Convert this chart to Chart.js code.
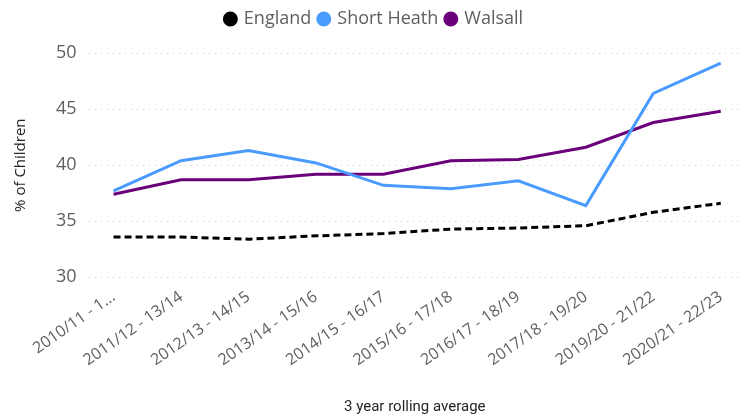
<!DOCTYPE html>
<html lang="en">
<head>
<meta charset="UTF-8">
<title>% of Children - 3 year rolling average</title>
<script src="https://cdn.jsdelivr.net/npm/chart.js"></script>
<style>
  html, body { margin: 0; padding: 0; background: #fff; }
  #wrap { width: 741px; height: 415px; position: relative; }
</style>
</head>
<body>
<div id="wrap"><canvas id="chart"></canvas></div>
<script>
const periods = ['2010/11 - 12/13', '2011/12 - 13/14', '2012/13 - 14/15', '2013/14 - 15/16', '2014/15 - 16/17',
                 '2015/16 - 17/18', '2016/17 - 18/19', '2017/18 - 19/20', '2019/20 - 21/22', '2020/21 - 22/23'];
const england    = [33.6, 33.6, 33.4, 33.7, 33.9, 34.3, 34.4, 34.6, 35.8, 36.6];
const shortHeath = [37.7, 40.4, 41.3, 40.2, 38.2, 37.9, 38.6, 36.4, 46.4, 49.1];
const walsall    = [37.4, 38.7, 38.7, 39.2, 39.2, 40.4, 40.5, 41.6, 43.8, 44.8];
const yTicks = [30, 35, 40, 45, 50];

const pts = arr => arr.map((v, i) => ({ x: i, y: v }));

// extra space under the legend
const legendGap = {
  id: 'legendGap',
  beforeInit(chart) {
    const fit = chart.legend.fit;
    chart.legend.fit = function () { fit.bind(chart.legend)(); this.height += 15; };
  }
};

new Chart(document.getElementById('chart'), {
  type: 'line',
  data: {
    datasets: [
      { label: 'England', data: pts(england), borderColor: '#000', backgroundColor: '#000',
        borderWidth: 3, borderDash: [7, 4], pointRadius: 0, tension: 0 },
      { label: 'Short Heath', data: pts(shortHeath), borderColor: '#4a9bff', backgroundColor: '#4a9bff',
        borderWidth: 3, pointRadius: 0, tension: 0 },
      { label: 'Walsall', data: pts(walsall), borderColor: '#6b007b', backgroundColor: '#6b007b',
        borderWidth: 3, pointRadius: 0, tension: 0 }
    ]
  },
  options: {
    responsive: true,
    maintainAspectRatio: false,
    animation: false,
    layout: { padding: { left: 8, right: 0, top: 2, bottom: 0 } },
    plugins: {
      tooltip: { enabled: false },
      legend: {
        position: 'top',
        labels: {
          usePointStyle: true, pointStyle: 'circle', boxWidth: 9, boxHeight: 8.5, padding: 8,
          color: '#605e5c', font: { family: 'Open Sans', size: 18 }
        }
      }
    },
    scales: {
      x: {
        type: 'linear', min: -0.37, max: 9.3,
        afterBuildTicks: s => { s.ticks = periods.map((_, i) => ({ value: i })); },
        grid: { display: false }, border: { display: false },
        ticks: {
          minRotation: 35, maxRotation: 35, autoSkip: false, padding: 2,
          color: '#605e5c', font: { family: 'Open Sans', size: 16 },
          callback: v => { const l = periods[v]; return v === 0 ? l.slice(0, 11) + '...' : l; }
        },
        title: { display: true, text: '3 year rolling average', color: '#252423',
                 font: { family: 'Roboto', size: 15, lineHeight: 1 }, padding: { top: 28, bottom: 0 } }
      },
      y: {
        min: 30, max: 50,
        afterBuildTicks: s => { s.ticks = yTicks.map(v => ({ value: v })); },
        grid: { color: '#c8c8c8', lineWidth: 1, borderDash: [1, 5], drawTicks: false },
        border: { display: false, dash: [1, 5] },
        ticks: { color: '#605e5c', font: { family: 'Open Sans', size: 18 }, padding: 12 },
        title: { display: true, text: '% of Children', color: '#252423',
                 font: { family: 'Open Sans', size: 15 }, padding: { bottom: 14 } }
      }
    }
  },
  plugins: [legendGap]
});
</script>
</body>
</html>
